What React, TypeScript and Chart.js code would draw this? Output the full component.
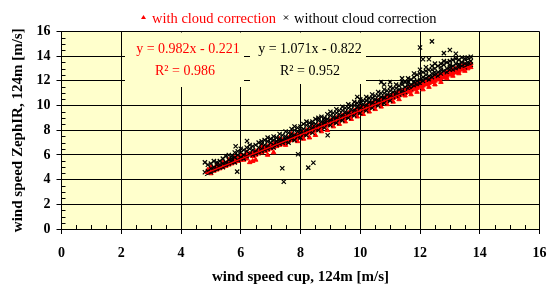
import React, { useEffect, useRef } from 'react';
import { Chart, registerables } from 'chart.js';

Chart.register(...registerables);

// ---- data ----
const seriesLabels = ['with cloud correction', 'without cloud correction'];

// rows: [cup speed x, ZephIR speeds y ...] read along the point cloud
const withCorrectionRows: number[][] = [
  [4.9, 4.6, 4.8], [5.0, 4.7, 5.0, 4.5], [5.1, 4.9, 4.7], [5.2, 5.0, 4.8, 5.2], [5.3, 5.1, 4.9], [5.4, 5.2, 5.0, 5.4],
  [5.5, 5.3, 5.1], [5.6, 5.4, 5.2, 5.6], [5.7, 5.5, 5.3], [5.8, 5.6, 5.4, 5.8], [5.9, 5.7, 5.5], [6.0, 5.8, 5.6, 6.0],
  [6.1, 5.9, 5.6], [6.2, 6.0, 5.7, 6.2], [6.3, 6.1, 5.4], [6.4, 6.2, 5.9, 5.5], [6.5, 6.3, 6.0, 5.6], [6.6, 6.4, 6.1],
  [6.7, 6.5, 6.2, 6.7], [6.8, 6.6, 6.3], [6.9, 6.7, 6.4, 6.0], [7.0, 6.8, 6.5], [7.1, 6.9, 6.6, 6.2], [7.2, 7.0, 6.7],
  [7.3, 7.1, 6.8, 7.3], [7.4, 7.2, 6.9], [7.5, 7.3, 7.0, 6.8], [7.6, 7.4, 7.1], [7.7, 7.5, 7.2, 7.7], [7.8, 7.6, 7.3],
  [7.9, 7.7, 7.4, 7.1], [8.0, 7.8, 7.5], [8.1, 7.9, 7.6, 7.3], [8.2, 8.0, 7.7], [8.3, 8.1, 7.8, 7.4], [8.4, 8.2, 7.9],
  [8.5, 8.3, 8.0, 7.6], [8.6, 8.4, 8.1], [8.7, 8.5, 8.2, 7.9], [8.8, 8.6, 8.3], [8.9, 8.7, 8.4, 8.0], [9.0, 8.8, 8.5],
  [9.1, 8.9, 8.6, 8.3], [9.2, 9.0, 8.7], [9.3, 9.1, 8.8, 8.5], [9.4, 9.2, 8.9], [9.5, 9.3, 9.0, 8.7], [9.6, 9.4, 9.1],
  [9.7, 9.5, 9.2, 8.9], [9.8, 9.6, 9.3], [9.9, 9.7, 9.4, 9.1], [10.0, 9.8, 9.5], [10.1, 9.9, 9.6, 9.3], [10.2, 10.0, 9.7],
  [10.3, 10.1, 9.8, 9.5], [10.4, 10.2, 9.9], [10.5, 10.3, 10.0, 9.7], [10.6, 10.4, 10.1], [10.7, 10.5, 10.2, 9.9],
  [10.8, 10.6, 10.3], [10.9, 10.7, 10.4, 10.1], [11.0, 10.8, 10.5], [11.1, 10.9, 10.6, 10.3], [11.2, 11.0, 10.7],
  [11.3, 11.1, 10.8, 10.5], [11.4, 11.2, 10.9], [11.5, 11.3, 11.0, 10.8], [11.6, 11.4, 11.1], [11.7, 11.5, 11.2, 10.9],
  [11.8, 11.6, 11.3], [11.9, 11.7, 11.4, 11.1], [12.0, 11.8, 11.5], [12.1, 11.9, 11.6, 11.3], [12.2, 12.0, 11.7],
  [12.3, 12.1, 11.8, 11.5], [12.4, 12.2, 11.9], [12.5, 12.3, 12.0, 11.7], [12.6, 12.4, 12.1], [12.7, 12.5, 12.2, 11.9],
  [12.8, 12.6, 12.3], [12.9, 12.7, 12.4, 12.2], [13.0, 12.8, 12.5], [13.1, 12.9, 12.6, 12.4], [13.2, 13.0, 12.7],
  [13.3, 13.1, 12.8, 12.6], [13.4, 13.2, 12.9], [13.5, 13.3, 13.0, 12.8], [13.6, 13.3, 13.0], [13.7, 13.4, 13.1],
];

const withoutCorrectionRows: number[][] = [
  [4.8, 5.4, 4.6], [4.9, 4.7, 5.2], [5.0, 4.9, 5.3, 4.6], [5.1, 5.0, 5.5, 4.8], [5.2, 5.2, 4.9, 5.4], [5.3, 5.0, 5.5, 5.2],
  [5.4, 5.3, 5.7, 5.0], [5.5, 5.4, 5.9, 5.2], [5.6, 5.6, 5.3, 6.0], [5.7, 5.5, 5.9, 5.7], [5.8, 5.8, 5.4, 6.2],
  [5.9, 6.0, 5.6, 6.3], [6.0, 5.8, 6.2, 6.5], [6.1, 6.0, 6.4, 5.7], [6.2, 6.3, 5.9, 6.6], [6.3, 6.1, 6.5, 6.8],
  [6.4, 6.4, 6.0, 6.7], [6.5, 6.3, 6.8, 6.1], [6.6, 6.6, 7.0, 6.2], [6.7, 6.5, 6.9, 6.3, 7.1], [6.8, 6.8, 6.4, 7.2],
  [6.9, 6.7, 7.1, 6.5, 7.4], [7.0, 7.0, 6.6, 7.3], [7.1, 6.8, 7.2, 7.5, 6.6], [7.2, 7.1, 7.4, 6.8], [7.3, 7.3, 6.9, 7.7, 7.1],
  [7.4, 7.2, 7.6, 7.0], [7.5, 7.5, 7.9, 7.1, 7.3], [7.6, 7.4, 7.8, 7.0], [7.7, 7.7, 8.1, 7.3, 7.5], [7.8, 7.6, 8.0, 7.2, 8.3],
  [7.9, 7.9, 7.5, 8.2], [8.0, 7.8, 8.3, 7.4, 8.0], [8.1, 8.1, 7.7, 8.5], [8.2, 8.0, 8.4, 7.6, 8.7], [8.3, 8.3, 7.9, 8.6],
  [8.4, 8.2, 8.7, 7.8, 8.5], [8.5, 8.5, 8.1, 8.9], [8.6, 8.4, 8.8, 8.0, 9.0], [8.7, 8.7, 8.3, 9.1], [8.8, 8.6, 9.0, 8.2, 8.8],
  [8.9, 8.9, 8.5, 9.3], [9.0, 8.8, 9.2, 8.4, 9.5], [9.1, 9.1, 8.7, 9.4], [9.2, 9.0, 9.4, 8.6, 9.7], [9.3, 9.3, 8.9, 9.6],
  [9.4, 9.2, 9.6, 8.8, 9.9], [9.5, 9.5, 9.1, 9.8], [9.6, 9.4, 9.8, 9.0, 10.1], [9.7, 9.7, 9.3, 10.0], [9.8, 9.6, 10.0, 9.2, 10.3],
  [9.9, 9.9, 9.5, 10.2, 10.7], [10.0, 9.8, 10.2, 9.4, 10.5], [10.1, 10.1, 9.7, 10.4], [10.2, 10.0, 10.4, 9.6, 10.7],
  [10.3, 10.3, 9.9, 10.6], [10.4, 10.2, 10.6, 9.8, 10.9], [10.5, 10.5, 10.1, 10.8], [10.6, 10.4, 10.8, 10.0, 11.1],
  [10.7, 10.7, 10.3, 11.0, 11.9], [10.8, 10.6, 11.0, 10.2, 11.3, 11.7], [10.9, 10.9, 10.5, 11.2], [11.0, 10.8, 11.2, 10.4, 11.5, 11.9],
  [11.1, 11.1, 10.7, 11.4], [11.2, 11.0, 11.4, 10.8, 11.7], [11.3, 11.3, 10.9, 11.6], [11.4, 11.2, 11.7, 11.0, 11.9, 12.2],
  [11.5, 11.5, 11.1, 11.9], [11.6, 11.4, 11.9, 11.7, 12.2], [11.7, 11.7, 12.1, 11.4], [11.8, 11.9, 12.3, 11.6, 12.6],
  [11.9, 12.0, 12.5, 11.7], [12.0, 12.1, 12.6, 11.8, 12.9, 14.7], [12.1, 12.3, 12.7, 12.0, 13.75], [12.2, 12.2, 12.8, 12.5, 13.1],
  [12.3, 12.4, 12.9, 12.1, 13.75], [12.4, 12.6, 13.2, 12.3, 12.9, 15.2], [12.5, 12.5, 13.0, 12.7, 13.4], [12.6, 12.7, 13.2, 12.4],
  [12.7, 12.9, 13.4, 12.6, 13.1], [12.8, 12.8, 13.3, 13.6, 14.25], [12.9, 13.0, 13.5, 12.7], [13.0, 13.1, 13.6, 12.9, 13.3, 14.5],
  [13.1, 13.2, 13.7, 12.9], [13.2, 13.0, 13.4, 13.8, 14.2], [13.3, 13.3, 13.7, 13.1], [13.4, 13.2, 13.5, 13.9],
  [13.5, 13.4, 13.8, 13.1], [13.6, 13.5, 13.9, 13.3], [13.7, 13.6, 13.95, 13.3],
  // isolated points below the cloud
  [5.88, 4.65], [5.83, 6.7], [6.21, 7.13], [7.39, 4.92], [7.44, 3.83], [7.92, 6.05], [8.26, 4.97], [8.43, 5.37], [8.91, 7.6],
];

// trend line end points (from the displayed regression equations)
const trendWith: [number, number][] = [[4.8, 4.49], [13.75, 13.28]];
const trendWithout: [number, number][] = [[4.8, 4.32], [13.75, 13.9]];

const equationWith = ['y = 0.982x - 0.221', 'R² = 0.986'];
const equationWithout = ['y = 1.071x - 0.822', 'R² = 0.952'];

const xTitle = 'wind speed cup, 124m [m/s]';
const yTitle = 'wind speed ZephIR, 124m [m/s]';

const RED = '#FF0000';
const BG = '#FFFFCC';
const SERIF = '"Liberation Serif", "Times New Roman", serif';

const rowsToPts = (rows: number[][]) =>
  rows.flatMap(([x, ...ys]) => ys.map((y) => ({ x, y })));
const toPts = (a: [number, number][]) => a.map(([x, y]) => ({ x, y }));

const decor = {
  id: 'decor',
  beforeDraw(chart: any) {
    const { ctx, chartArea: a } = chart;
    ctx.save();
    ctx.fillStyle = BG;
    ctx.fillRect(a.left, a.top, a.right - a.left, a.bottom - a.top);
    ctx.restore();
  },
  beforeDatasetsDraw(chart: any) {
    const { ctx, chartArea: a } = chart;
    const xs = chart.scales.x;
    const ys = chart.scales.y;
    ctx.save();
    // boxes behind the regression text hide the grid
    ctx.fillStyle = BG;
    ctx.fillRect(125, a.top + 1, 119, 86 - a.top);
    ctx.fillRect(250, a.top + 1, 116, 83 - a.top);
    // minor ticks (inside)
    ctx.strokeStyle = '#000';
    ctx.lineWidth = 1;
    ctx.beginPath();
    for (let v = 0.5; v < 16; v += 0.5) {
      if (Math.abs(v % 2) < 1e-6) continue;
      const px = Math.round(xs.getPixelForValue(v)) + 0.5;
      ctx.moveTo(px, a.bottom);
      ctx.lineTo(px, a.bottom - 4);
      const py = Math.round(ys.getPixelForValue(v)) + 0.5;
      ctx.moveTo(a.left, py);
      ctx.lineTo(a.left + 4, py);
    }
    ctx.stroke();
    ctx.restore();
  },
  afterDraw(chart: any) {
    const { ctx } = chart;
    ctx.save();
    ctx.font = `14px ${SERIF}`;
    ctx.textAlign = 'center';
    ctx.textBaseline = 'middle';
    ctx.fillStyle = RED;
    ctx.fillText(equationWith[0], 188, 49);
    ctx.fillText(equationWith[1], 185, 71.5);
    ctx.fillStyle = '#000';
    ctx.fillText(equationWithout[0], 310, 49);
    ctx.fillText(equationWithout[1], 310, 71.5);

    // legend
    ctx.font = `14.5px ${SERIF}`;
    ctx.textAlign = 'left';
    ctx.textBaseline = 'alphabetic';
    ctx.fillStyle = RED;
    ctx.beginPath();
    ctx.moveTo(143.5, 15);
    ctx.lineTo(146, 19);
    ctx.lineTo(141, 19);
    ctx.closePath();
    ctx.fill();
    ctx.fillText(seriesLabels[0], 152, 22.5);
    ctx.strokeStyle = '#000';
    ctx.lineWidth = 1;
    ctx.beginPath();
    ctx.moveTo(284, 15.5);
    ctx.lineTo(288, 19.5);
    ctx.moveTo(288, 15.5);
    ctx.lineTo(284, 19.5);
    ctx.stroke();
    ctx.fillStyle = '#000';
    ctx.fillText(seriesLabels[1], 294, 22.5);
    ctx.restore();
  },
};

export default function App() {
  const ref = useRef<HTMLCanvasElement>(null);
  useEffect(() => {
    const canvas = ref.current!;
    const tickFont = { family: SERIF, size: 14, weight: 'bold' as const };
    const titleFont = { family: SERIF, size: 15, weight: 'bold' as const };
    const chart = new Chart(canvas, {
      type: 'scatter',
      data: {
        datasets: [
          {
            label: seriesLabels[0],
            order: 4,
            data: rowsToPts(withCorrectionRows),
            pointStyle: 'triangle',
            pointRadius: 2.6,
            backgroundColor: RED,
            borderColor: RED,
            borderWidth: 1,
          },
          {
            label: seriesLabels[1],
            order: 3,
            data: rowsToPts(withoutCorrectionRows),
            pointStyle: 'crossRot',
            pointRadius: 3,
            borderColor: '#000',
            backgroundColor: '#000',
            borderWidth: 1.2,
          },
          {
            label: 'trend without',
            order: 2,
            type: 'line',
            data: toPts(trendWithout),
            showLine: true,
            pointRadius: 0,
            borderColor: '#000',
            borderWidth: 1,
          },
          {
            label: 'trend with',
            order: 1,
            type: 'line',
            data: toPts(trendWith),
            showLine: true,
            pointRadius: 0,
            borderColor: RED,
            borderWidth: 1.5,
          },
        ] as any,
      },
      options: {
        responsive: false,
        animation: false,
        devicePixelRatio: 1,
        layout: { padding: { top: 31.5, right: 8, left: 0, bottom: 0 } },
        plugins: { legend: { display: false }, tooltip: { enabled: false } },
        scales: {
          x: {
            type: 'linear',
            min: 0,
            max: 16,
            ticks: { stepSize: 2, font: tickFont, color: '#000', padding: 10.5 },
            grid: { color: '#000', tickColor: '#000', tickLength: 5, drawTicks: true, lineWidth: 1 },
            border: { color: '#000', width: 1 },
            title: { display: true, text: xTitle, font: titleFont, color: '#000', padding: { top: 0, bottom: 0 } },
            afterFit: (s: any) => { s.height = 57; },
          },
          y: {
            type: 'linear',
            min: 0,
            max: 16,
            ticks: { stepSize: 2, font: tickFont, color: '#000', padding: 6 },
            grid: { color: '#000', tickColor: '#000', tickLength: 5, drawTicks: true, lineWidth: 1 },
            border: { color: '#000', width: 1 },
            title: { display: true, text: yTitle, font: titleFont, color: '#000', padding: { top: 9.5, bottom: 0 } },
            afterFit: (s: any) => { s.width = 61.5; },
          },
        },
      } as any,
      plugins: [decor],
    });
    return () => chart.destroy();
  }, []);
  return (
    <div style={{ position: 'absolute', left: 0, top: 0, width: 557, height: 286, background: '#fff' }}>
      <canvas ref={ref} width={557} height={286} style={{ width: 557, height: 286, display: 'block' }} />
    </div>
  );
}
